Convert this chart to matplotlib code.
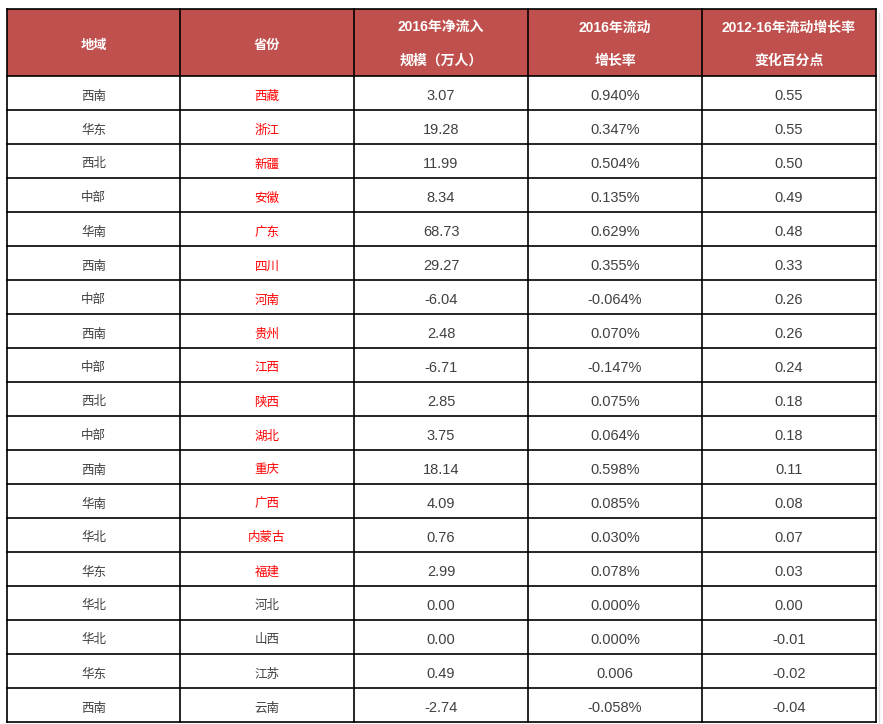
import matplotlib
matplotlib.use("Agg")
import matplotlib.pyplot as plt
from matplotlib.patches import Rectangle

regions = ["西南", "华东", "西北", "中部", "华南", "西南", "中部", "西南", "中部", "西北",
           "中部", "西南", "华南", "华北", "华东", "华北", "华北", "华东", "西南"]
provinces = ["西藏", "浙江", "新疆", "安徽", "广东", "四川", "河南", "贵州", "江西", "陕西",
             "湖北", "重庆", "广西", "内蒙古", "福建", "河北", "山西", "江苏", "云南"]
net_inflow = ["3.07", "19.28", "11.99", "8.34", "68.73", "29.27", "-6.04", "2.48", "-6.71", "2.85",
              "3.75", "18.14", "4.09", "0.76", "2.99", "0.00", "0.00", "0.49", "-2.74"]
growth_2016 = ["0.940%", "0.347%", "0.504%", "0.135%", "0.629%", "0.355%", "-0.064%", "0.070%",
               "-0.147%", "0.075%", "0.064%", "0.598%", "0.085%", "0.030%", "0.078%", "0.000%",
               "0.000%", "0.006", "-0.058%"]
change_pp = ["0.55", "0.55", "0.50", "0.49", "0.48", "0.33", "0.26", "0.26", "0.24", "0.18",
             "0.18", "0.11", "0.08", "0.07", "0.03", "0.00", "-0.01", "-0.02", "-0.04"]
highlighted = [True] * 15 + [False] * 4
headers = ["地域", "省份", "2016年净流入\n规模（万人）", "2016年流动\n增长率", "2012-16年流动增长率\n变化百分点"]

W, H = 883, 724
fig = plt.figure(figsize=(W / 100, H / 100), dpi=100)
ax = fig.add_axes([0, 0, 1, 1])
ax.set_xlim(0, W)
ax.set_ylim(H, 0)
ax.axis("off")

fams = ["Liberation Sans", "Noto Sans CJK SC", "DejaVu Sans"]
cjk = ["Noto Sans CJK SC", "DejaVu Sans"]

col_x = [7, 180, 354, 528, 702, 876]
top, head_bot, row_h = 9, 76, 34
n = len(regions)

# header
ax.add_patch(Rectangle((col_x[0], top), col_x[-1] - col_x[0], head_bot - top,
                       facecolor="#C0504D", edgecolor="none", zorder=1))
for j, h in enumerate(headers):
    cx = (col_x[j] + col_x[j + 1]) / 2
    lines = h.split("\n")
    if len(lines) == 1:
        ax.text(cx, (top + head_bot) / 2 + 2, lines[0], ha="center", va="center",
                color="white", fontsize=9.5, fontweight="bold", family=cjk)
    else:
        for k, ln in enumerate(lines):
            y = 28 + k * 33
            ax.text(cx, y, ln, ha="center", va="center", color="white",
                    fontsize=10, fontweight="bold", family=fams)

# body
for i in range(n):
    y0 = head_bot + i * row_h
    yc = y0 + row_h / 2 + 3
    vals = [regions[i], provinces[i], net_inflow[i], growth_2016[i], change_pp[i]]
    for j, v in enumerate(vals):
        cx = (col_x[j] + col_x[j + 1]) / 2
        if j < 2:
            color = "#FF0000" if (j == 1 and highlighted[i]) else "#404040"
            ax.text(cx, yc, v, ha="center", va="center", color=color,
                    fontsize=9, family=cjk)
        else:
            ax.text(cx, yc, v, ha="center", va="center", color="#404040",
                    fontsize=10.5, family=fams)

bottom = head_bot + n * row_h
# grid lines
for x in col_x:
    ax.plot([x, x], [top, bottom], color="black", lw=1.2, zorder=3, solid_capstyle="projecting")
ax.plot([col_x[0], col_x[-1]], [top, top], color="black", lw=1.2, zorder=3)
for i in range(n + 1):
    y = head_bot + i * row_h
    ax.plot([col_x[0], col_x[-1]], [y, y], color="black", lw=1.2, zorder=3)

# faint scrollbar edge on the right
ax.plot([879, 879], [13, H], color="#DDDDDD", lw=1, zorder=2)

fig.savefig("out.png", dpi=100)
